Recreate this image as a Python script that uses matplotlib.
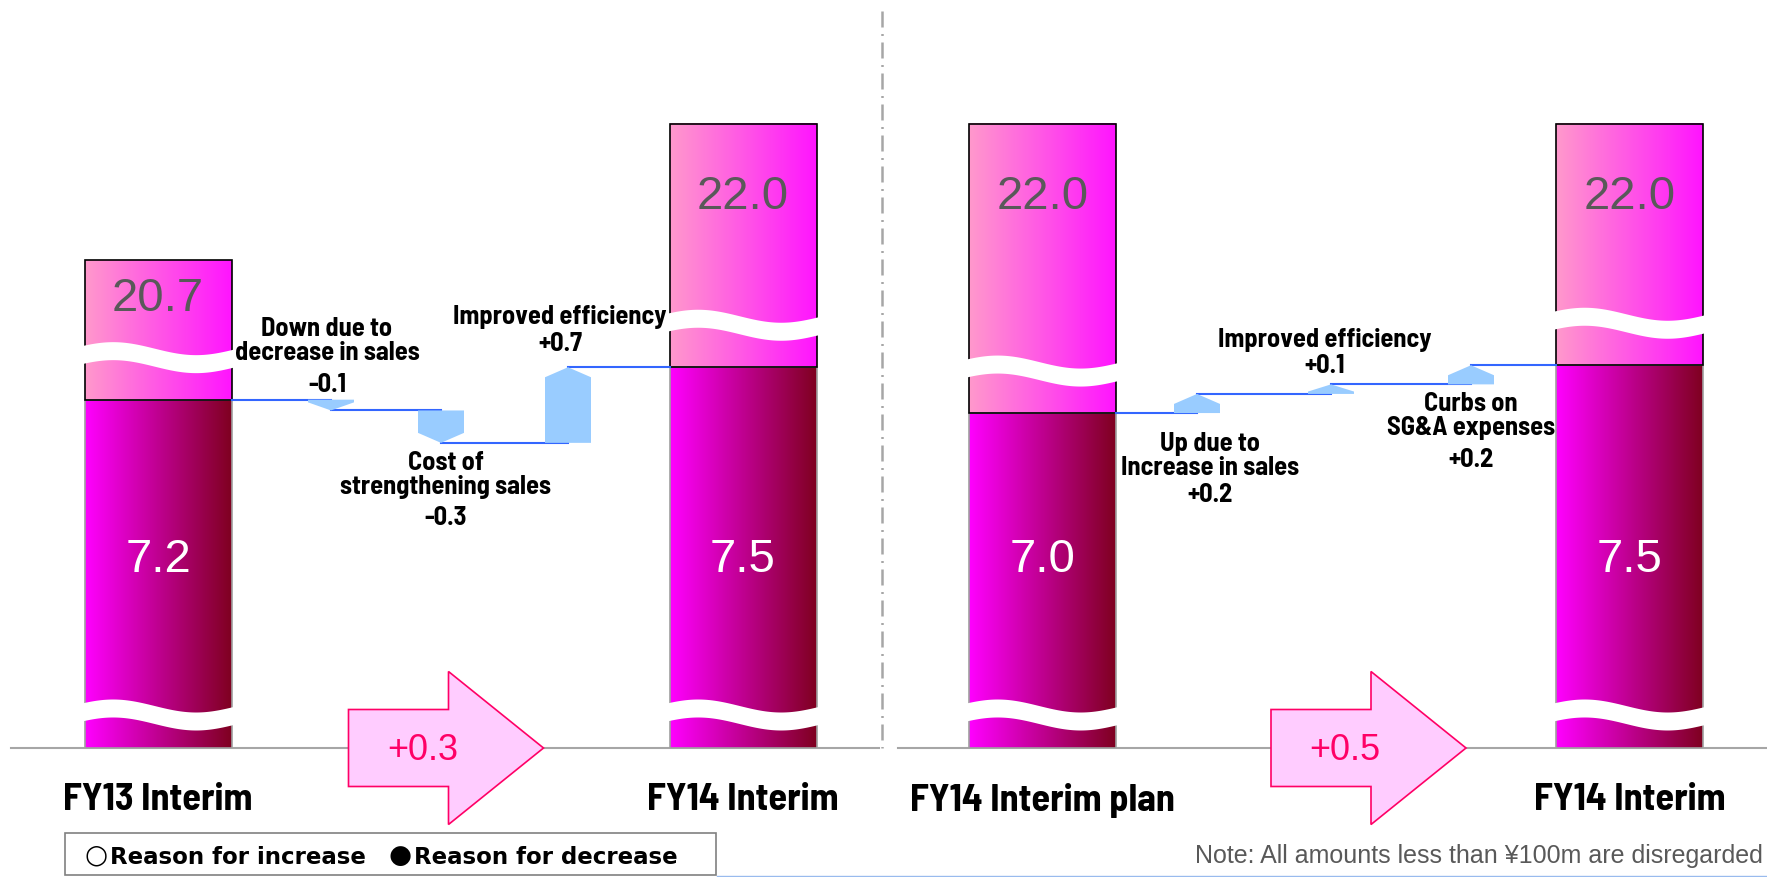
import numpy as np
import matplotlib
matplotlib.use('Agg')
import matplotlib.pyplot as plt
from matplotlib.colors import LinearSegmentedColormap
from matplotlib.patches import Polygon, Rectangle
from matplotlib.lines import Line2D

plt.rcParams['font.family'] = ['Liberation Sans', 'DejaVu Sans']

# left panel: FY13 interim -> FY14 interim
left_bars = ["FY13 Interim", "FY14 Interim"]
left_sales = [20.7, 22.0]
left_income = [7.2, 7.5]
left_steps = ["Down due to\ndecrease in sales", "Cost of\nstrengthening sales", "Improved efficiency"]
left_changes = [-0.1, -0.3, 0.7]

# right panel: plan -> actual
right_bars = ["FY14 Interim plan", "FY14 Interim"]
right_sales = [22.0, 22.0]
right_income = [7.0, 7.5]
right_steps = ["Up due to\nIncrease in sales", "Improved efficiency", "Curbs on\nSG&A expenses"]
right_changes = [0.2, 0.1, 0.2]

legend_marks = ["○", "●"]
legend_labels = ["Reason for increase", "Reason for decrease"]
note_text = "Note: All amounts less than ¥100m are disregarded"

# layout (pixels)
W, H = 1767, 877
BASE = 748
BAR_W = 147
STEP_W = 46
sales_lim = (16.035, 23.185)
narrow = ['Barlow Semi Condensed', 'DejaVu Sans']

low_cmap = LinearSegmentedColormap.from_list('low', ['#ff00ff', '#7f0020'])
high_cmap = LinearSegmentedColormap.from_list('high', ['#ff99cc', '#ff14ff'])

panels = [
    dict(bars=left_bars, sales=left_sales, income=left_income, steps=left_steps, changes=left_changes,
         xlim=(0, 881), ylim=(3.975, 10.90), bar_x=[158, 743], step_x=[331, 441, 568],
         top_off=[39, 73], side=['up', 'down', 'up'], dx=[-4, 5, -8],
         name_dy=[-59, 32, -50], value_dy=[-15, 75, -23], arrow_x=348.5, base_line=(11, 879)),
    dict(bars=right_bars, sales=right_sales, income=right_income, steps=right_steps, changes=right_changes,
         xlim=(881, 1767), ylim=(3.497, 11.32), bar_x=[1042.5, 1629.5], step_x=[1197, 1331, 1471],
         top_off=[73, 73], side=['down', 'up', 'down'], dx=[13, -6, 0],
         name_dy=[43, -44, 32], value_dy=[82, -18, 76], arrow_x=1271, base_line=(898, 1767)),
]


def salesToIncome(ax, axs, s):
    yd = axs.transData.transform((0, s))[1]
    return ax.transData.inverted().transform((0, yd))[1]


def gradBar(ax, x0, x1, y0, y1, cmap, edge):
    grad = np.linspace(0, 1, 256).reshape(1, -1)
    ax.imshow(grad, extent=[x0, x1, y0, y1], cmap=cmap, aspect='auto', zorder=2,
              interpolation='bilinear')
    ax.add_patch(Rectangle((x0, y0), x1 - x0, y1 - y0, fill=False, edgecolor=edge,
                           lw=1.2, zorder=2.1))


def breakBand(ax, x0, x1, ytop, upp):
    t = np.linspace(0, 1, 80)
    off = 3.5 - 6.5 * np.cos(2 * np.pi * (t - 0.2) / 1.1)
    xs = x0 - 2 + t * (x1 - x0 + 4)
    top = ytop - off * upp
    ax.fill_between(xs, top - 18 * upp, top, color='white', lw=0, zorder=2.5)


fig = plt.figure(figsize=(W / 100, H / 100), dpi=100)

for p in panels:
    x0, x1 = p['xlim']
    ax = fig.add_axes([x0 / W, (H - BASE) / H, (x1 - x0) / W, BASE / H])
    ax.set_xlim(x0, x1)
    ax.set_ylim(*p['ylim'])
    ax.axis('off')
    axs = ax.twinx()
    axs.set_ylim(*sales_lim)
    axs.axis('off')
    y0 = p['ylim'][0]
    upp = (p['ylim'][1] - p['ylim'][0]) / BASE

    ax.plot(p['base_line'], [y0, y0], color='#a6a6a6', lw=1.5, clip_on=False, zorder=1)

    for i in range(2):
        bx = p['bar_x'][i]
        xa, xb = bx - BAR_W / 2, bx + BAR_W / 2
        inc = p['income'][i]
        top = salesToIncome(ax, axs, p['sales'][i])
        gradBar(ax, xa, xb, y0, inc, low_cmap, '#a0a0a0')
        gradBar(ax, xa, xb, inc, top, high_cmap, 'black')
        breakBand(ax, xa, xb, inc + 55 * upp, upp)
        breakBand(ax, xa, xb, y0 + 46 * upp, upp)
        ax.annotate(f"{p['sales'][i]:.1f}", (bx, top), xytext=(0, -p['top_off'][i]),
                    textcoords='offset pixels', ha='center', va='center', fontsize=34,
                    color='#595959', zorder=6, annotation_clip=False)
        ax.annotate(f"{inc:.1f}", (bx, y0), xytext=(0, 188), textcoords='offset pixels',
                    ha='center', va='center', fontsize=34, color='white', zorder=6,
                    annotation_clip=False)
        ax.annotate(p['bars'][i], (bx, y0), xytext=(0, -52), textcoords='offset pixels',
                    ha='center', va='center', fontsize=27.5, family=narrow, weight='bold',
                    annotation_clip=False)

    levels = [p['income'][0]]
    for c in p['changes']:
        levels.append(levels[-1] + c)
    xs = [p['bar_x'][0] + BAR_W / 2] + p['step_x'] + [p['bar_x'][1] - BAR_W / 2]
    for j in range(len(levels)):
        ax.plot([xs[j], xs[j + 1]], [levels[j], levels[j]], color='#3366ff', lw=1.5, zorder=3)

    for j, c in enumerate(p['changes']):
        l0, l1 = levels[j], levels[j + 1]
        xc = p['step_x'][j]
        tip = min(10 * upp, 0.75 * abs(c)) * np.sign(c)
        pts = [(xc - STEP_W / 2, l0), (xc + STEP_W / 2, l0), (xc + STEP_W / 2, l1 - tip),
               (xc, l1), (xc - STEP_W / 2, l1 - tip)]
        ax.add_patch(Polygon(pts, closed=True, facecolor='#99ccff', edgecolor='none', zorder=4))
        anchor = max(l0, l1) if p['side'][j] == 'up' else min(l0, l1)
        ax.annotate(p['steps'][j], (xc, anchor), xytext=(p['dx'][j], -p['name_dy'][j]),
                    textcoords='offset pixels', ha='center', va='center', linespacing=1.0,
                    fontsize=19, family=narrow, weight='bold', zorder=6)
        ax.annotate(f"{c:+.1f}", (xc, anchor), xytext=(p['dx'][j], -p['value_dy'][j]),
                    textcoords='offset pixels', ha='center', va='center',
                    fontsize=19, family=narrow, weight='bold', zorder=6)

    # big difference arrow
    a0 = p['arrow_x']
    sh, hh = 38.5 * upp, 76.5 * upp
    arrow = [(a0, y0 + sh), (a0 + 100, y0 + sh), (a0 + 100, y0 + hh), (a0 + 195, y0),
             (a0 + 100, y0 - hh), (a0 + 100, y0 - sh), (a0, y0 - sh)]
    ax.add_patch(Polygon(arrow, closed=True, facecolor='#ffccff', edgecolor='#ff0066',
                         lw=1.2, clip_on=False, zorder=5))
    diff = p['income'][1] - p['income'][0]
    ax.annotate(f"{diff:+.1f}", (a0 + 74, y0), xytext=(0, -3), textcoords='offset pixels',
                ha='center', va='center', fontsize=26, color='#ff0066', zorder=6,
                annotation_clip=False)

# divider between panels
fig.add_artist(Line2D([882 / W, 882 / W], [1 - 11 / H, 1 - 748 / H], color='#a6a6a6',
                      lw=1.8, linestyle=(0, (6.4, 2.6, 0.8, 2.6))))

# legend box
fig.add_artist(Rectangle((65 / W, 2 / H), 651 / W, 42 / H, transform=fig.transFigure,
                         fill=False, edgecolor='#808080', lw=1.2))
for mark, lab, xm, xl in zip(legend_marks, legend_labels, [84, 388], [110, 414]):
    fig.text(xm / W, 1 - 856 / H, mark, va='center', ha='left', fontsize=19,
             family=['DejaVu Sans'], weight='bold')
    fig.text(xl / W, 1 - 857 / H, lab, va='center', ha='left', fontsize=16.5,
             family=['DejaVu Sans'], weight='bold')

fig.text(1763 / W, 1 - 856 / H, note_text, va='center', ha='right', fontsize=18, color='#595959')
fig.add_artist(Line2D([717 / W, 1], [0.6 / H, 0.6 / H], color='#99bbee', lw=1))

fig.savefig('out.png', dpi=100)
